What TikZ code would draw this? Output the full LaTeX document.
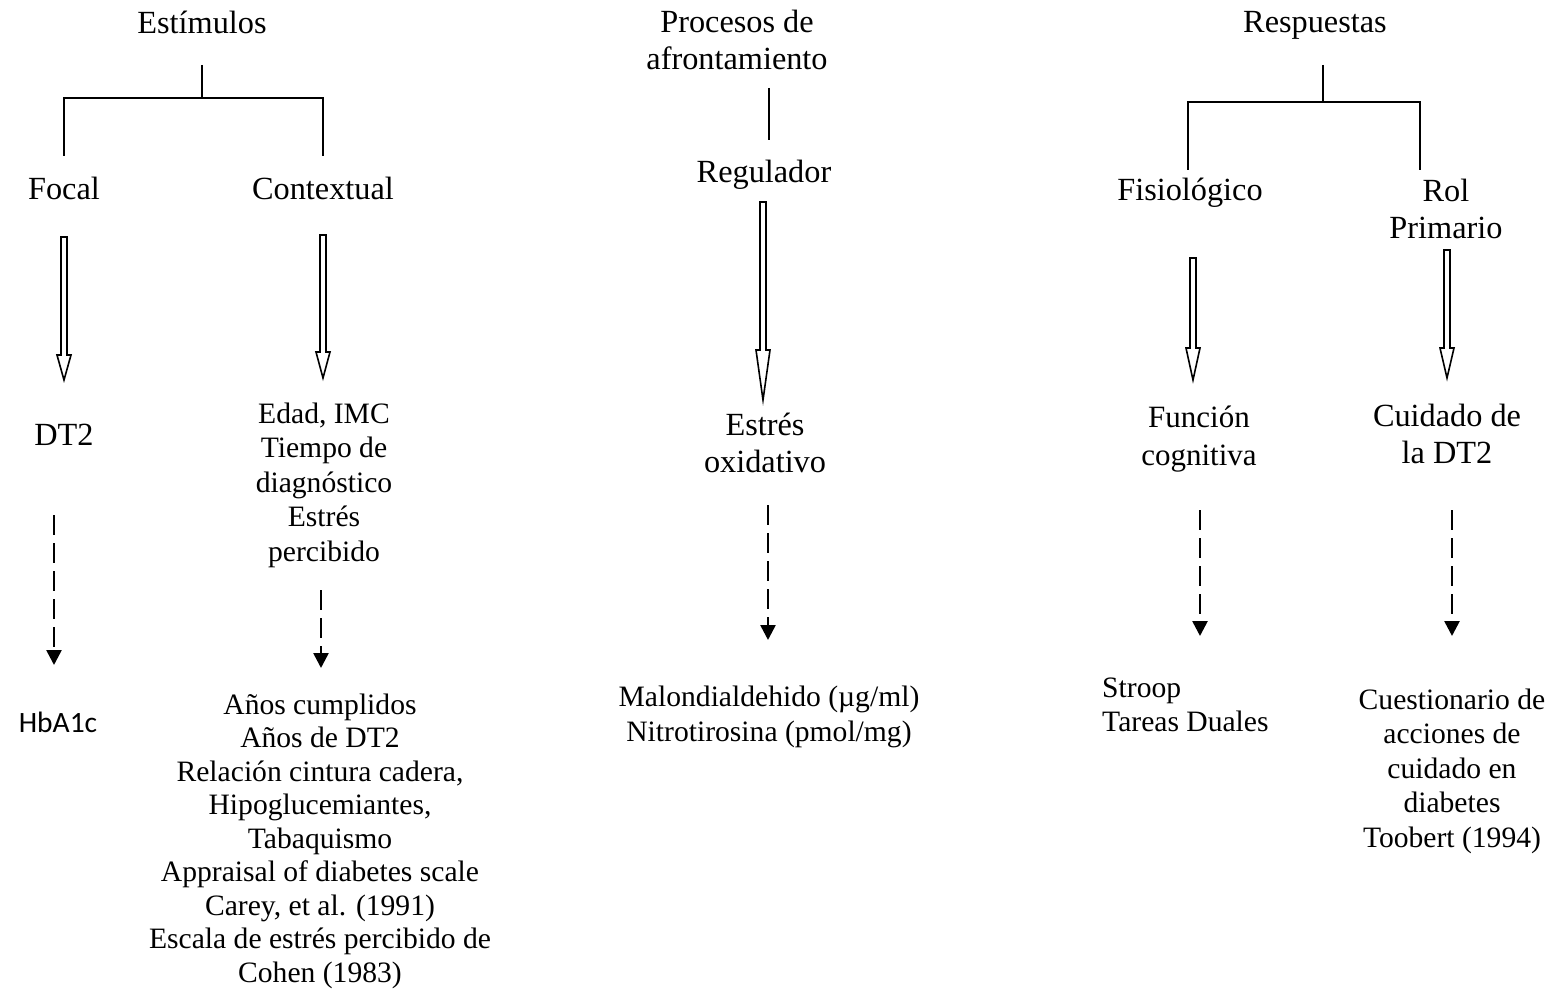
\documentclass[tikz,border=0pt]{standalone}
\usepackage{fontspec}
\setmainfont{Liberation Serif}
\newfontfamily\calib{Carlito}
\usetikzlibrary{calc,arrows.meta}
\tikzset{
  txt/.style={inner sep=0pt, align=center, font=\fontsize{29.6}{34.5}\selectfont},
  big/.style={font=\fontsize{32.3}{37.5}\selectfont},
  tree/.style={line width=2pt},
  hollow/.style={line width=1.6pt, fill=white, line join=miter},
  dasharr/.style={line width=2.6pt, dash pattern=on 20pt off 8pt, -{Triangle[width=15pt,length=15pt]}},
}
\newcommand\hollowarr[3]{%
  \draw[hollow] ($(#1)+(-3,0)$) -- ($(#2)+(-3,-#3)$) -- ($(#2)+(-7,-#3)$) -- (#2) -- ($(#2)+(7,-#3)$) -- ($(#2)+(3,-#3)$) -- ($(#1)+(3,0)$) -- cycle;}
\begin{document}
\begin{tikzpicture}[x=1pt,y=-1pt]
\useasboundingbox (0,0) rectangle (1553,992);
% ---- left column ----
\node[txt, big] (estim) at (202,22) {Estímulos};
\node[txt, big] (focal) at (64,188) {Focal};
\node[txt, big] (context) at (323,188) {Contextual};
\coordinate (e0) at (202,65);
\coordinate (e1) at (202,98);
\coordinate (eL) at (64,98);
\coordinate (eR) at (323,98);
\coordinate (eLb) at (64,156);
\coordinate (eRb) at (323,156);
\draw[tree] (e0) -- (e1);
\draw[tree] (eLb) -- (eL) -- (eR) -- (eRb);
\node[txt, big] (dt2) at (64,435) {DT2};
\node[txt] (ctxvars) at (324,485) {Edad, IMC\\Tiempo de\\diagnóstico\\Estrés\\percibido};
\node[inner sep=0pt, font=\calib\fontsize{29.5}{34}\selectfont] (hba) at (58,722) {HbA1c};
\node[txt, font=\fontsize{29.6}{33.5}\selectfont] (anos) at (320,841) {Años cumplidos\\Años de DT2\\Relación cintura cadera,\\Hipoglucemiantes,\\Tabaquismo\\Appraisal of diabetes scale\\Carey, et al. (1991)\\Escala de estrés percibido de\\Cohen (1983)};
\coordinate (a1s) at (64,237); \coordinate (a1e) at (64,380);
\coordinate (a2s) at (323,235); \coordinate (a2e) at (323,378);
\hollowarr{a1s}{a1e}{25}
\hollowarr{a2s}{a2e}{26}
\coordinate (d1s) at (54,515); \coordinate (d1e) at (54,665);
\coordinate (d2s) at (321,590); \coordinate (d2e) at (321,668);
\draw[dasharr] (d1s) -- (d1e);
\draw[dasharr] (d2s) -- (d2e);
% ---- middle column ----
\node[txt, big] (proc) at (737,40) {Procesos de\\afrontamiento};
\coordinate (m0) at (769,88); \coordinate (m1) at (769,140);
\draw[tree] (m0) -- (m1);
\node[txt, big] (regul) at (764,175) {Regulador};
\coordinate (a3s) at (763,202); \coordinate (a3e) at (763,400);
\hollowarr{a3s}{a3e}{50}
\node[txt, big] (estres) at (765,443) {Estrés\\oxidativo};
\coordinate (d3s) at (768,505); \coordinate (d3e) at (768,640);
\draw[dasharr] (d3s) -- (d3e);
\node[txt] (malon) at (769,717) {Malondialdehido (µg/ml)\\Nitrotirosina (pmol/mg)};
% ---- right column ----
\node[txt, big] (resp) at (1315,25) {Respuestas};
\coordinate (r0) at (1323,65); \coordinate (r1) at (1323,102);
\coordinate (rL) at (1188,102); \coordinate (rR) at (1420,102);
\coordinate (rLb) at (1188,170); \coordinate (rRb) at (1420,170);
\draw[tree] (r0) -- (r1);
\draw[tree] (rLb) -- (rL) -- (rR) -- (rRb);
\node[txt, big] (fisio) at (1190,193) {Fisiológico};
\node[txt, big] (rol) at (1446,209) {Rol\\Primario};
\coordinate (a4s) at (1193,258); \coordinate (a4e) at (1193,380);
\coordinate (a5s) at (1447,250); \coordinate (a5e) at (1447,378);
\hollowarr{a4s}{a4e}{32}
\hollowarr{a5s}{a5e}{30}
\node[txt, font=\fontsize{31}{37.5}\selectfont] (func) at (1199,439) {Función\\cognitiva};
\node[txt, big] (cuid) at (1447,434) {Cuidado de\\la DT2};
\coordinate (d4s) at (1200,510); \coordinate (d4e) at (1200,636);
\coordinate (d5s) at (1452,510); \coordinate (d5e) at (1452,636);
\draw[dasharr] (d4s) -- (d4e);
\draw[dasharr] (d5s) -- (d5e);
\node[txt, align=left, anchor=west] (stroop) at (1102,705) {Stroop\\Tareas Duales};
\node[txt] (cuest) at (1452,771) {Cuestionario de\\acciones de\\cuidado en\\diabetes\\Toobert (1994)};
\end{tikzpicture}
\end{document}
